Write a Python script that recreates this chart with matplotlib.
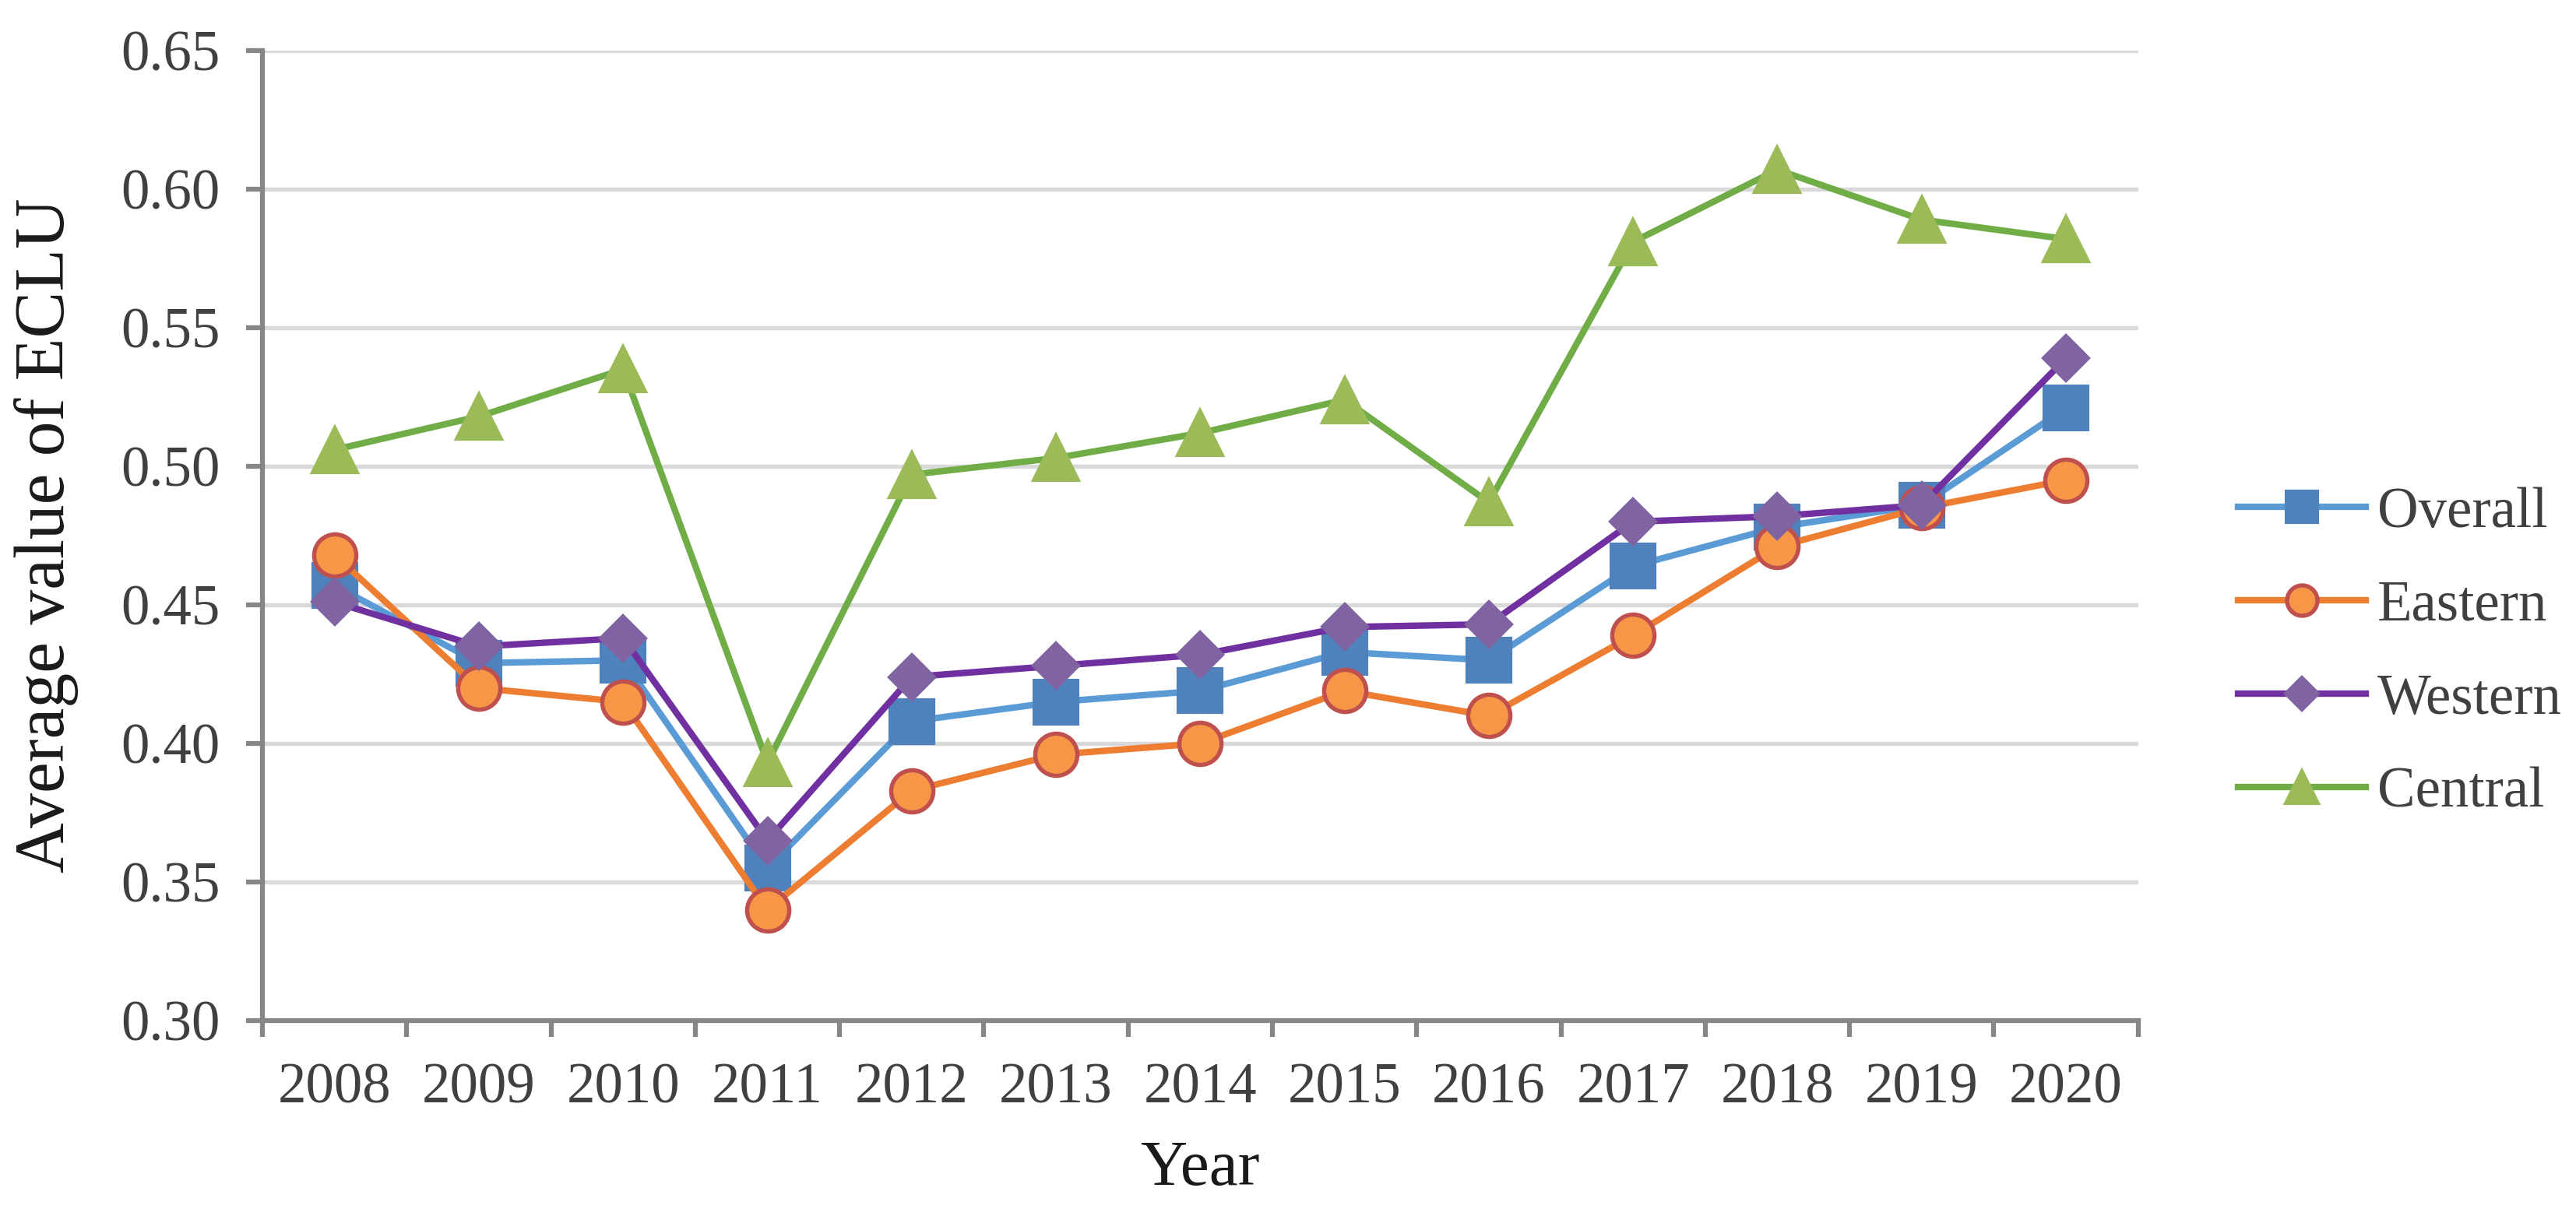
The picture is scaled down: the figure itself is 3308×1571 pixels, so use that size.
import matplotlib
matplotlib.use("Agg")
import matplotlib.pyplot as plt
from matplotlib.ticker import FixedLocator

plt.rcParams['font.family'] = ['Liberation Serif', 'DejaVu Serif']

# Data
years = ['2008', '2009', '2010', '2011', '2012', '2013', '2014',
         '2015', '2016', '2017', '2018', '2019', '2020']
overall = [0.457, 0.429, 0.430, 0.355, 0.408, 0.415, 0.419,
           0.433, 0.430, 0.464, 0.478, 0.486, 0.521]
eastern = [0.468, 0.420, 0.415, 0.340, 0.383, 0.396, 0.400,
           0.419, 0.410, 0.439, 0.471, 0.485, 0.495]
western = [0.451, 0.435, 0.438, 0.365, 0.424, 0.428, 0.432,
           0.442, 0.443, 0.480, 0.482, 0.486, 0.539]
central = [0.506, 0.518, 0.535, 0.393, 0.497, 0.503, 0.512,
           0.524, 0.487, 0.581, 0.607, 0.589, 0.582]
yticks = [0.30, 0.35, 0.40, 0.45, 0.50, 0.55, 0.60, 0.65]

fig = plt.figure(figsize=(3308 / 300, 1571 / 300), dpi=300)
ax = fig.add_axes([0.1019, 0.1655, 0.830 - 0.1019, 0.9586 - 0.1655])

x = list(range(len(years)))
lw = 2.0

ax.plot(x, overall, color='#5B9BD5', lw=lw, marker='s', ms=13.5,
        mfc='#4F81BD', mec='#4F81BD', label='Overall', zorder=3)
ax.plot(x, eastern, color='#ED7D31', lw=lw, marker='o', ms=13,
        mfc='#F79646', mec='#C0504D', mew=1.3, label='Eastern', zorder=4)
ax.plot(x, western, color='#7030A0', lw=lw, marker='D', ms=10,
        mfc='#8064A2', mec='#8064A2', label='Western', zorder=5)
ax.plot(x, central, color='#70AD47', lw=lw, marker='^', ms=14,
        mfc='#9BBB59', mec='#9BBB59', label='Central', zorder=3)

ax.set_xlim(-0.5, len(years) - 0.5)
ax.set_ylim(0.30, 0.65)
ax.set_yticks(yticks)
ax.set_yticklabels(['%.2f' % v for v in yticks])
ax.set_xticks(x)
ax.set_xticklabels(years)
ax.xaxis.set_minor_locator(FixedLocator([i - 0.5 for i in range(len(years) + 1)]))

ax.grid(axis='y', color='#D9D9D9', lw=1.3, zorder=0)
ax.set_axisbelow(True)
for s in ['top', 'right']:
    ax.spines[s].set_visible(False)
for s in ['left', 'bottom']:
    ax.spines[s].set_color('#868686')
    ax.spines[s].set_linewidth(1.5)

ax.tick_params(axis='y', which='major', length=5, width=1.5, color='#868686',
               labelsize=17.5, labelcolor='#404040', pad=8)
ax.tick_params(axis='x', which='major', length=0, labelsize=17.5,
               labelcolor='#404040', pad=13)
ax.tick_params(axis='x', which='minor', length=5, width=1.5, color='#868686')

ax.set_xlabel('Year', fontsize=20, color='#1a1a1a')
ax.xaxis.set_label_coords(0.5, -0.123)
ax.set_ylabel('Average value of ECLU', fontsize=21.5, color='#1a1a1a')
ax.yaxis.set_label_coords(-0.098, 0.5)

ax.legend(loc='center left', bbox_to_anchor=(0.849, 0.466),
          bbox_transform=fig.transFigure, frameon=False, fontsize=17.5,
          handlelength=2.25, handletextpad=0.2, labelspacing=0.72,
          markerscale=0.72, labelcolor='#404040')

fig.savefig('out.png', dpi=300)
